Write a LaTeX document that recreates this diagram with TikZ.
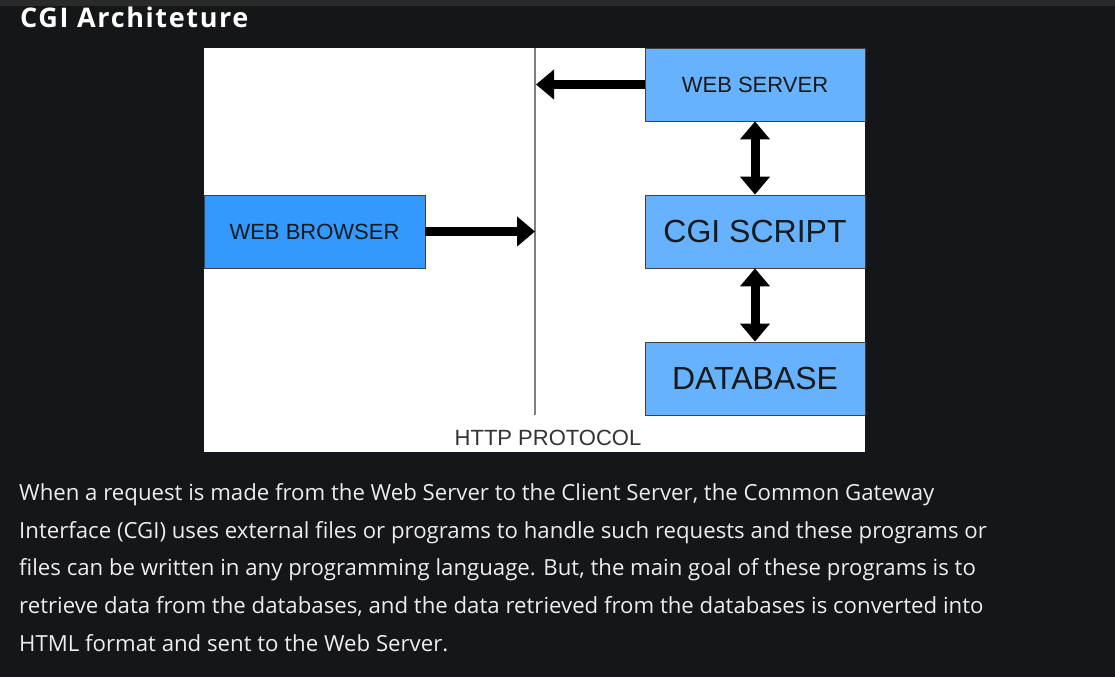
\documentclass[tikz,border=0pt]{standalone}
\usepackage{fontspec}
\setmainfont{Open Sans}[Ligatures=NoCommon]
\newfontfamily\arialfont{Liberation Sans}
\newfontfamily\titlefont{Open Sans}[LetterSpace=6]
\usetikzlibrary{arrows.meta}
\definecolor{pagebg}{HTML}{151619}
\definecolor{topbar}{HTML}{2A2A2B}
\definecolor{serverblue}{HTML}{66B2FF}
\definecolor{browserblue}{HTML}{3399FF}
\definecolor{bodytext}{HTML}{EDEDED}

\begin{document}
\begin{tikzpicture}[x=1pt,y=-1pt,line join=miter,
  box/.style={draw=black!75,line width=0.8pt,fill=serverblue,minimum width=220pt,minimum height=73pt,inner sep=0pt,text=black!90},
  bigarrow/.style={line width=9pt,-{Triangle[length=18pt,width=29pt]}},
  twoarrow/.style={line width=9pt,{Triangle[length=18pt,width=29pt]}-{Triangle[length=18pt,width=29pt]}},
  para/.style={anchor=base west,inner sep=0pt,text=bodytext,font=\fontsize{22.2}{25}\selectfont}]
\useasboundingbox (0,0) rectangle (1115,677);
\fill[pagebg] (0,0) rectangle (1115,677);
\fill[topbar] (0,0) rectangle (1115,6);
\node[anchor=base west,inner sep=0pt,text=white,font=\titlefont\fontsize{27}{30}\bfseries] (title) at (20,28) {CGI Architeture};
% diagram panel
\fill[white] (204,48) rectangle (865,452);
\coordinate (ptop) at (535,48);
\coordinate (pbot) at (535,415);
\draw[gray,line width=1.2pt] (ptop) -- (pbot);
\node[box,font=\arialfont\fontsize{22}{26}\selectfont] (web) at (755,84.5) {WEB SERVER};
\node[box,font=\arialfont\fontsize{32}{36}\selectfont] (cgi) at (755,231.5) {CGI SCRIPT};
\node[box,font=\arialfont\fontsize{32}{36}\selectfont] (db) at (755,378.5) {DATABASE};
\node[box,fill=browserblue,minimum width=221pt,font=\arialfont\fontsize{22}{26}\selectfont] (browser) at (314.5,231.5) {WEB BROWSER};
\node[inner sep=0pt,text=black!80,font=\arialfont\fontsize{22}{26}\selectfont] (http) at (548,438) {HTTP PROTOCOL};
\coordinate (lhit) at (536,84.5);
\coordinate (rhit) at (535,231.5);
\draw[bigarrow] (web.west) -- (lhit);
\draw[bigarrow] (browser.east) -- (rhit);
\draw[twoarrow] (web.south) -- (cgi.north);
\draw[twoarrow] (cgi.south) -- (db.north);
% text below
\node[para] (line1) at (19,500) {When a request is made from the Web Server to the Client Server, the Common Gateway};
\node[para] (line2) at (19,538) {Interface (CGI) uses external files or programs to handle such requests and these programs or};
\node[para] (line3) at (19,575.5) {files can be written in any programming language. But, the main goal of these programs is to};
\node[para] (line4) at (19,613.5) {retrieve data from the databases, and the data retrieved from the databases is converted into};
\node[para] (line5) at (19,651.5) {HTML format and sent to the Web Server.};
\end{tikzpicture}
\end{document}
